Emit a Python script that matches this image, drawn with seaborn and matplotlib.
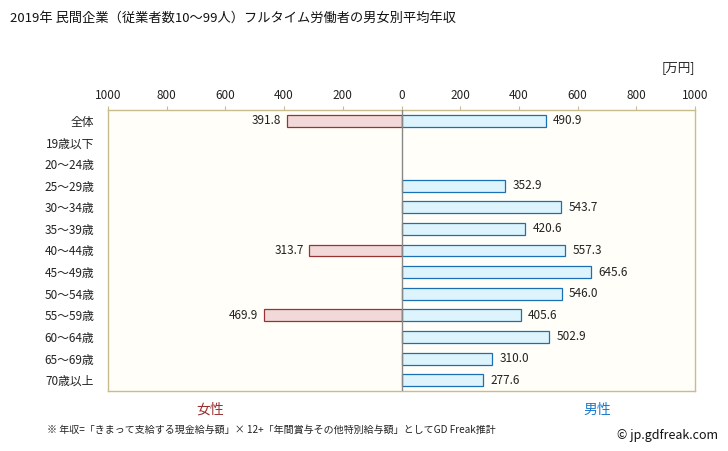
import numpy as np
import pandas as pd
import matplotlib
matplotlib.use("Agg")
import matplotlib.pyplot as plt
import seaborn as sns

categories = ["全体", "19歳以下", "20〜24歳", "25〜29歳", "30〜34歳", "35〜39歳", "40〜44歳",
              "45〜49歳", "50〜54歳", "55〜59歳", "60〜64歳", "65〜69歳", "70歳以上"]
female = [391.8, np.nan, np.nan, np.nan, np.nan, np.nan, 313.7,
          np.nan, np.nan, 469.9, np.nan, np.nan, np.nan]
male = [490.9, np.nan, np.nan, 352.9, 543.7, 420.6, 557.3,
        645.6, 546.0, 405.6, 502.9, 310.0, 277.6]
ticks = [-1000, -800, -600, -400, -200, 0, 200, 400, 600, 800, 1000]

sns.set_style("white")
plt.rcParams['font.family'] = ['Noto Sans CJK JP', 'DejaVu Sans']

df = pd.DataFrame({"cat": categories, "female": -np.array(female), "male": male})

fig = plt.figure(figsize=(7.28, 4.51), dpi=100)
ax = fig.add_axes([108 / 728, 60 / 451, 587 / 728, 281 / 451])
ax.set_facecolor("#fffef8")

sns.barplot(data=df, x="female", y="cat", order=categories, orient="h", width=0.55,
            color="#f2d9d9", edgecolor="#993333", linewidth=0.9, saturation=1, ax=ax)
sns.barplot(data=df, x="male", y="cat", order=categories, orient="h", width=0.55,
            color="#ddf4fc", edgecolor="#1a6fb5", linewidth=0.9, saturation=1, ax=ax)

for i, v in enumerate(female):
    if not np.isnan(v):
        ax.text(-v - 18, i, f"{v:.1f}", ha="right", va="center", fontsize=8.5, color="#222222")
for i, v in enumerate(male):
    if not np.isnan(v):
        ax.text(v + 25, i, f"{v:.1f}", ha="left", va="center", fontsize=8.5, color="#222222")

ax.axvline(0, color="#888888", linewidth=1.0, zorder=5)
ax.set_xlim(-1000, 1000)
ax.set_ylim(12.5, -0.5)
ax.xaxis.tick_top()
ax.set_xticks(ticks)
ax.set_xticklabels([str(abs(t)) for t in ticks], fontsize=8.5, color="#222222")
ax.tick_params(axis="x", length=3, color="#c8bc8c", pad=3, top=True, bottom=False)
ax.tick_params(axis="y", length=0, pad=10, labelsize=8.5, labelcolor="#222222")
ax.set_xlabel("")
ax.set_ylabel("")
for s in ax.spines.values():
    s.set_color("#c8bc8c")
    s.set_linewidth(1.0)

fig.text(10 / 728, 1 - 18 / 451, "2019年 民間企業（従業者数10〜99人）フルタイム労働者の男女別平均年収",
         ha="left", va="center", fontsize=9.5, color="#111111")
fig.text(695 / 728, 1 - 68 / 451, "[万円]", ha="right", va="center", fontsize=9, color="#222222")
fig.text(210 / 728, 1 - 410 / 451, "女性", ha="center", va="center", fontsize=10, color="#993333")
fig.text(597 / 728, 1 - 410 / 451, "男性", ha="center", va="center", fontsize=10, color="#1a7acc")
fig.text(47 / 728, 1 - 430 / 451,
         "※ 年収=「きまって支給する現金給与額」× 12+「年間賞与その他特別給与額」としてGD Freak推計",
         ha="left", va="center", fontsize=7.2, color="#222222")
fig.text(718 / 728, 1 - 435 / 451, "© jp.gdfreak.com", ha="right", va="center", fontsize=9, color="#111111")

fig.savefig("out.png", dpi=100, facecolor="white")
